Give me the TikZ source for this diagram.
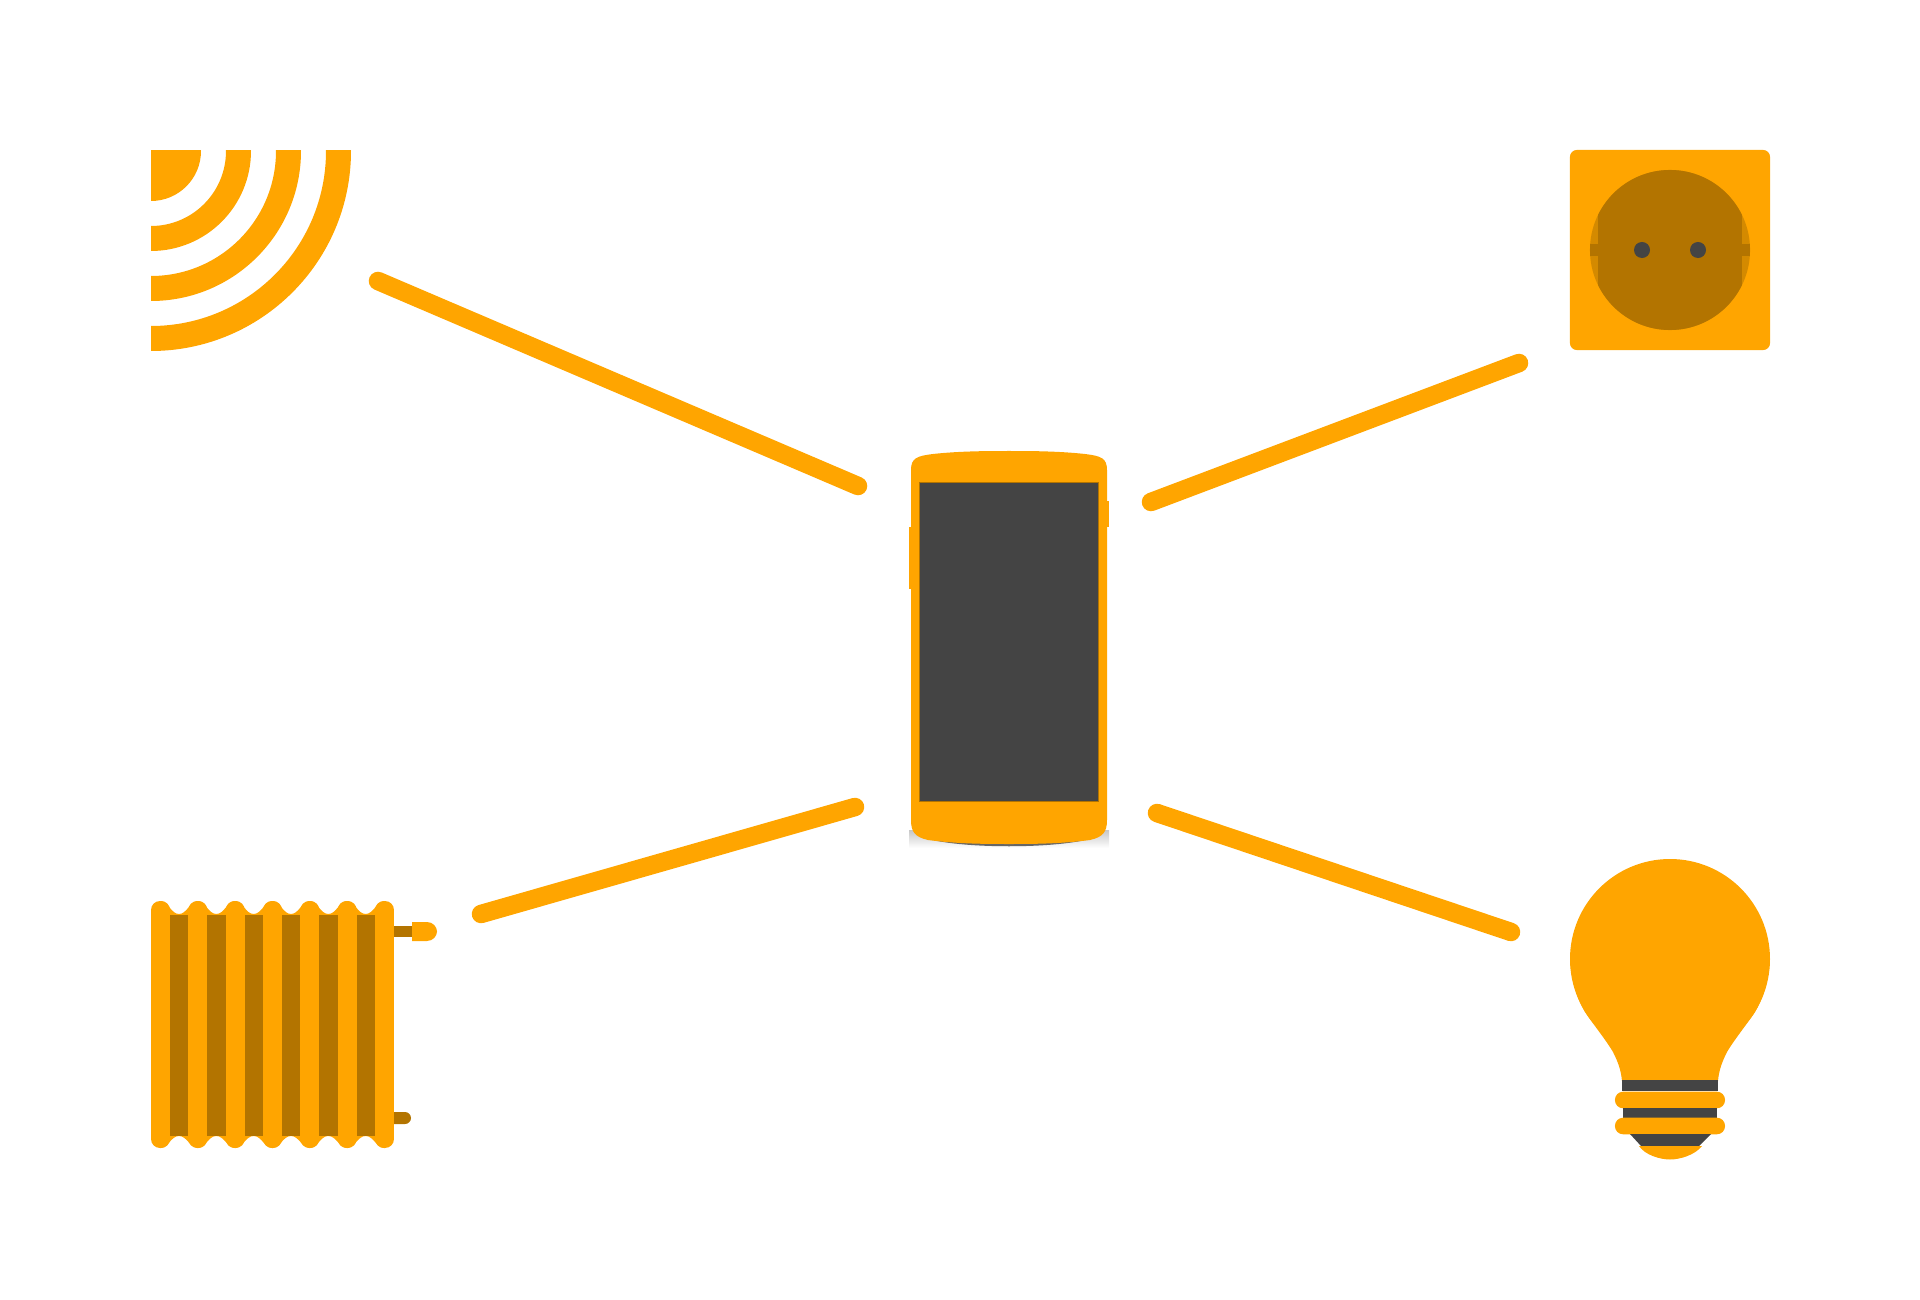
\documentclass[tikz,border=0pt]{standalone}
\definecolor{iconorange}{RGB}{255, 165, 0}
\definecolor{icondark}{RGB}{179, 116, 0}
\definecolor{iconmid}{RGB}{212, 138, 0}
\definecolor{iconscreen}{RGB}{68, 68, 68}
\usetikzlibrary{positioning}

\begin{document}
\begin{tikzpicture}[
  x=0.01cm, y=-0.01cm,
  link/.style={draw=iconorange, line width=0.185cm, line cap=round},
  plate/.style={fill=iconorange, rounded corners=0.07cm, minimum size=2cm, inner sep=0pt},
  hole/.style={circle, fill=iconscreen, minimum size=0.16cm, inner sep=0pt},
  ring/.style={fill=iconorange, rounded corners=0.08cm, minimum width=1.1cm, minimum height=0.165cm, inner sep=0pt},
  band/.style={fill=iconscreen, minimum height=0.105cm, inner sep=0pt},
  screen/.style={fill=iconscreen, draw=icondark, line width=0.01cm, minimum width=1.78cm, minimum height=3.18cm, inner sep=0pt}
]
  \useasboundingbox (0,0) rectangle (1920,1300);

  % wifi
  \begin{scope}
    \clip (151,151) rectangle (351,351);
    \coordinate (wificentre) at (151,151);
    \fill[iconorange] (wificentre) circle[radius=50];
    \foreach \rin/\rout in {75/100, 125/150, 175/200}
      \fill[iconorange, even odd rule] (wificentre) circle[radius=\rout] (wificentre) circle[radius=\rin];
  \end{scope}

  % socket
  \node[plate] (socketplate) at (1670,250) {};
  \node[circle, fill=iconmid, minimum size=1.6cm, inner sep=0pt] (socketface) at (socketplate) {};
  \begin{scope}
    \clip (socketface.center) circle[radius=80];
    \fill[icondark] (1598,150) rectangle (1742,350);
    \fill[icondark] (1590,244) rectangle (1750,256);
  \end{scope}
  \node[hole] (holeleft) at (1642,250) {};
  \node[hole] (holeright) at (1698,250) {};

  % phone
  \shade[top color=black!22, bottom color=white] (909,830) rectangle (1109,848);
  \fill[black!60] (925,838) .. controls (960,849) and (1058,849) .. (1093,838) -- cycle;
  \fill[iconorange] (909,527) rectangle (914,589);
  \fill[iconorange] (1104,501) rectangle (1109,527);
  \fill[iconorange] (911,470) .. controls (911,458) and (917,456) .. (933,454)
    .. controls (960,451) and (990,451) .. (1009,451)
    .. controls (1028,451) and (1058,451) .. (1085,454)
    .. controls (1101,456) and (1107,458) .. (1107,470)
    -- (1107,820) .. controls (1107,832) and (1103,837) .. (1090,840)
    .. controls (1060,844) and (1030,844) .. (1009,844)
    .. controls (988,844) and (958,844) .. (928,840)
    .. controls (915,837) and (911,832) .. (911,820) -- cycle;
  \node[screen] (phonescreen) at (1009,642) {};

  % radiator
  \fill[icondark, rounded corners=0.06cm] (385,1112) rectangle (411,1124);
  \fill[icondark] (385,926) rectangle (412,937);
  \fill[iconorange] (412,922) -- (427,922) .. controls (433,922) and (437,927) .. (437,931.5)
    .. controls (437,936) and (433,941) .. (427,941) -- (412,941) -- cycle;
  \foreach \i in {0,...,6} {
    \pgfmathsetmacro{\finx}{151+37.33*\i}
    \fill[iconorange, rounded corners=0.09cm] (\finx,901) rectangle (\finx+19,1148);
  }
  \foreach \i in {0,...,5} {
    \pgfmathsetmacro{\gapx}{170+37.33*\i}
    \fill[iconorange] (\gapx-9.5,901) .. controls (\gapx-2,901) and (\gapx+1,914) .. (\gapx+9,914)
      .. controls (\gapx+17,914) and (\gapx+20,901) .. (\gapx+28,901)
      -- (\gapx+28,1148) .. controls (\gapx+20,1148) and (\gapx+17,1136) .. (\gapx+9,1136)
      .. controls (\gapx+1,1136) and (\gapx-2,1148) .. (\gapx-9.5,1148) -- cycle;
    \fill[icondark] (\gapx,914.5) rectangle (\gapx+18.3,1135.5);
  }

  % bulb
  \fill[iconorange] (1670,959) circle[radius=100];
  \fill[iconorange] (1570,959) .. controls (1572,985) and (1578,1000) .. (1585,1012)
    .. controls (1590,1020) and (1606,1040) .. (1613,1052)
    .. controls (1618,1062) and (1621,1070) .. (1622,1081)
    -- (1718,1081) .. controls (1719,1070) and (1722,1062) .. (1727,1052)
    .. controls (1734,1040) and (1750,1020) .. (1755,1012)
    .. controls (1762,1000) and (1768,985) .. (1770,959) -- cycle;
  \node[band, minimum width=0.96cm] (bandtop) at (1670,1085.5) {};
  \node[ring] (ringtop) at (1670,1100) {};
  \node[band, minimum width=0.94cm] (bandmid) at (1670,1113) {};
  \node[ring] (ringlow) at (1670,1126) {};
  \fill[iconscreen] (1630,1134) -- (1711,1134) -- (1699,1146) -- (1641,1146) -- cycle;
  \fill[iconorange] (1639,1146) .. controls (1645,1155) and (1660,1159.5) .. (1670,1159.5)
    .. controls (1680,1159.5) and (1695,1155) .. (1702,1146) -- cycle;

  % connectors
  \coordinate (wifiend) at (378,281);
  \coordinate (phonewifi) at (858,486);
  \coordinate (socketend) at (1519,363);
  \coordinate (phonesocket) at (1151,502);
  \coordinate (radiatorend) at (481,914);
  \coordinate (phoneradiator) at (855,807);
  \coordinate (bulbend) at (1511,932);
  \coordinate (phonebulb) at (1157,813);
  \draw[link] (wifiend) -- (phonewifi);
  \draw[link] (phonesocket) -- (socketend);
  \draw[link] (radiatorend) -- (phoneradiator);
  \draw[link] (phonebulb) -- (bulbend);
\end{tikzpicture}
\end{document}
